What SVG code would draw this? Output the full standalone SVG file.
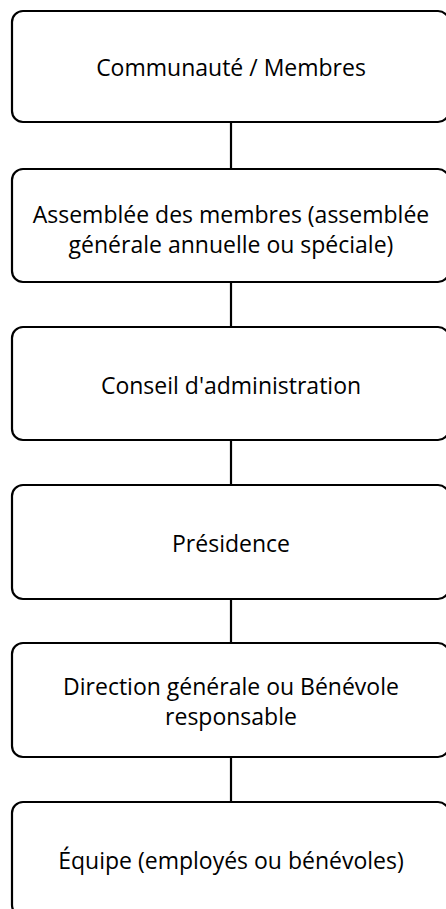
<svg xmlns="http://www.w3.org/2000/svg" width="446" height="909" viewBox="0 0 446 909">
<style>
.box{fill:#fff;stroke:#000;stroke-width:2.2}
.lbl{font-family:"Open Sans","Noto Sans",sans-serif;font-size:23px;fill:#000;text-anchor:middle}
.conn{stroke:#000;stroke-width:2.2;fill:none}
</style>
<rect width="446" height="909" fill="#fff"/>
<g id="connectors">
<line class="conn" x1="231" y1="122" x2="231" y2="169"/>
<line class="conn" x1="231" y1="282" x2="231" y2="327"/>
<line class="conn" x1="231" y1="440" x2="231" y2="485"/>
<line class="conn" x1="231" y1="599" x2="231" y2="643"/>
<line class="conn" x1="231" y1="757" x2="231" y2="802"/>
</g>
<g id="n1"><rect class="box" x="12" y="11" width="437" height="111" rx="11"/><text class="lbl" x="231" y="76">Communauté / Membres</text></g>
<g id="n2"><rect class="box" x="12" y="169" width="437" height="113" rx="11"/><text class="lbl" x="231" y="223">Assemblée des membres (assemblée</text><text class="lbl" x="231" y="253">générale annuelle ou spéciale)</text></g>
<g id="n3"><rect class="box" x="12" y="327" width="437" height="113" rx="11"/><text class="lbl" x="231" y="394">Conseil d'administration</text></g>
<g id="n4"><rect class="box" x="12" y="485" width="437" height="114" rx="11"/><text class="lbl" x="231" y="552">Présidence</text></g>
<g id="n5"><rect class="box" x="12" y="643" width="437" height="114" rx="11"/><text class="lbl" x="231" y="695">Direction générale ou Bénévole</text><text class="lbl" x="231" y="725">responsable</text></g>
<g id="n6"><rect class="box" x="12" y="802" width="437" height="114" rx="11"/><text class="lbl" x="231" y="869">Équipe (employés ou bénévoles)</text></g>
</svg>
